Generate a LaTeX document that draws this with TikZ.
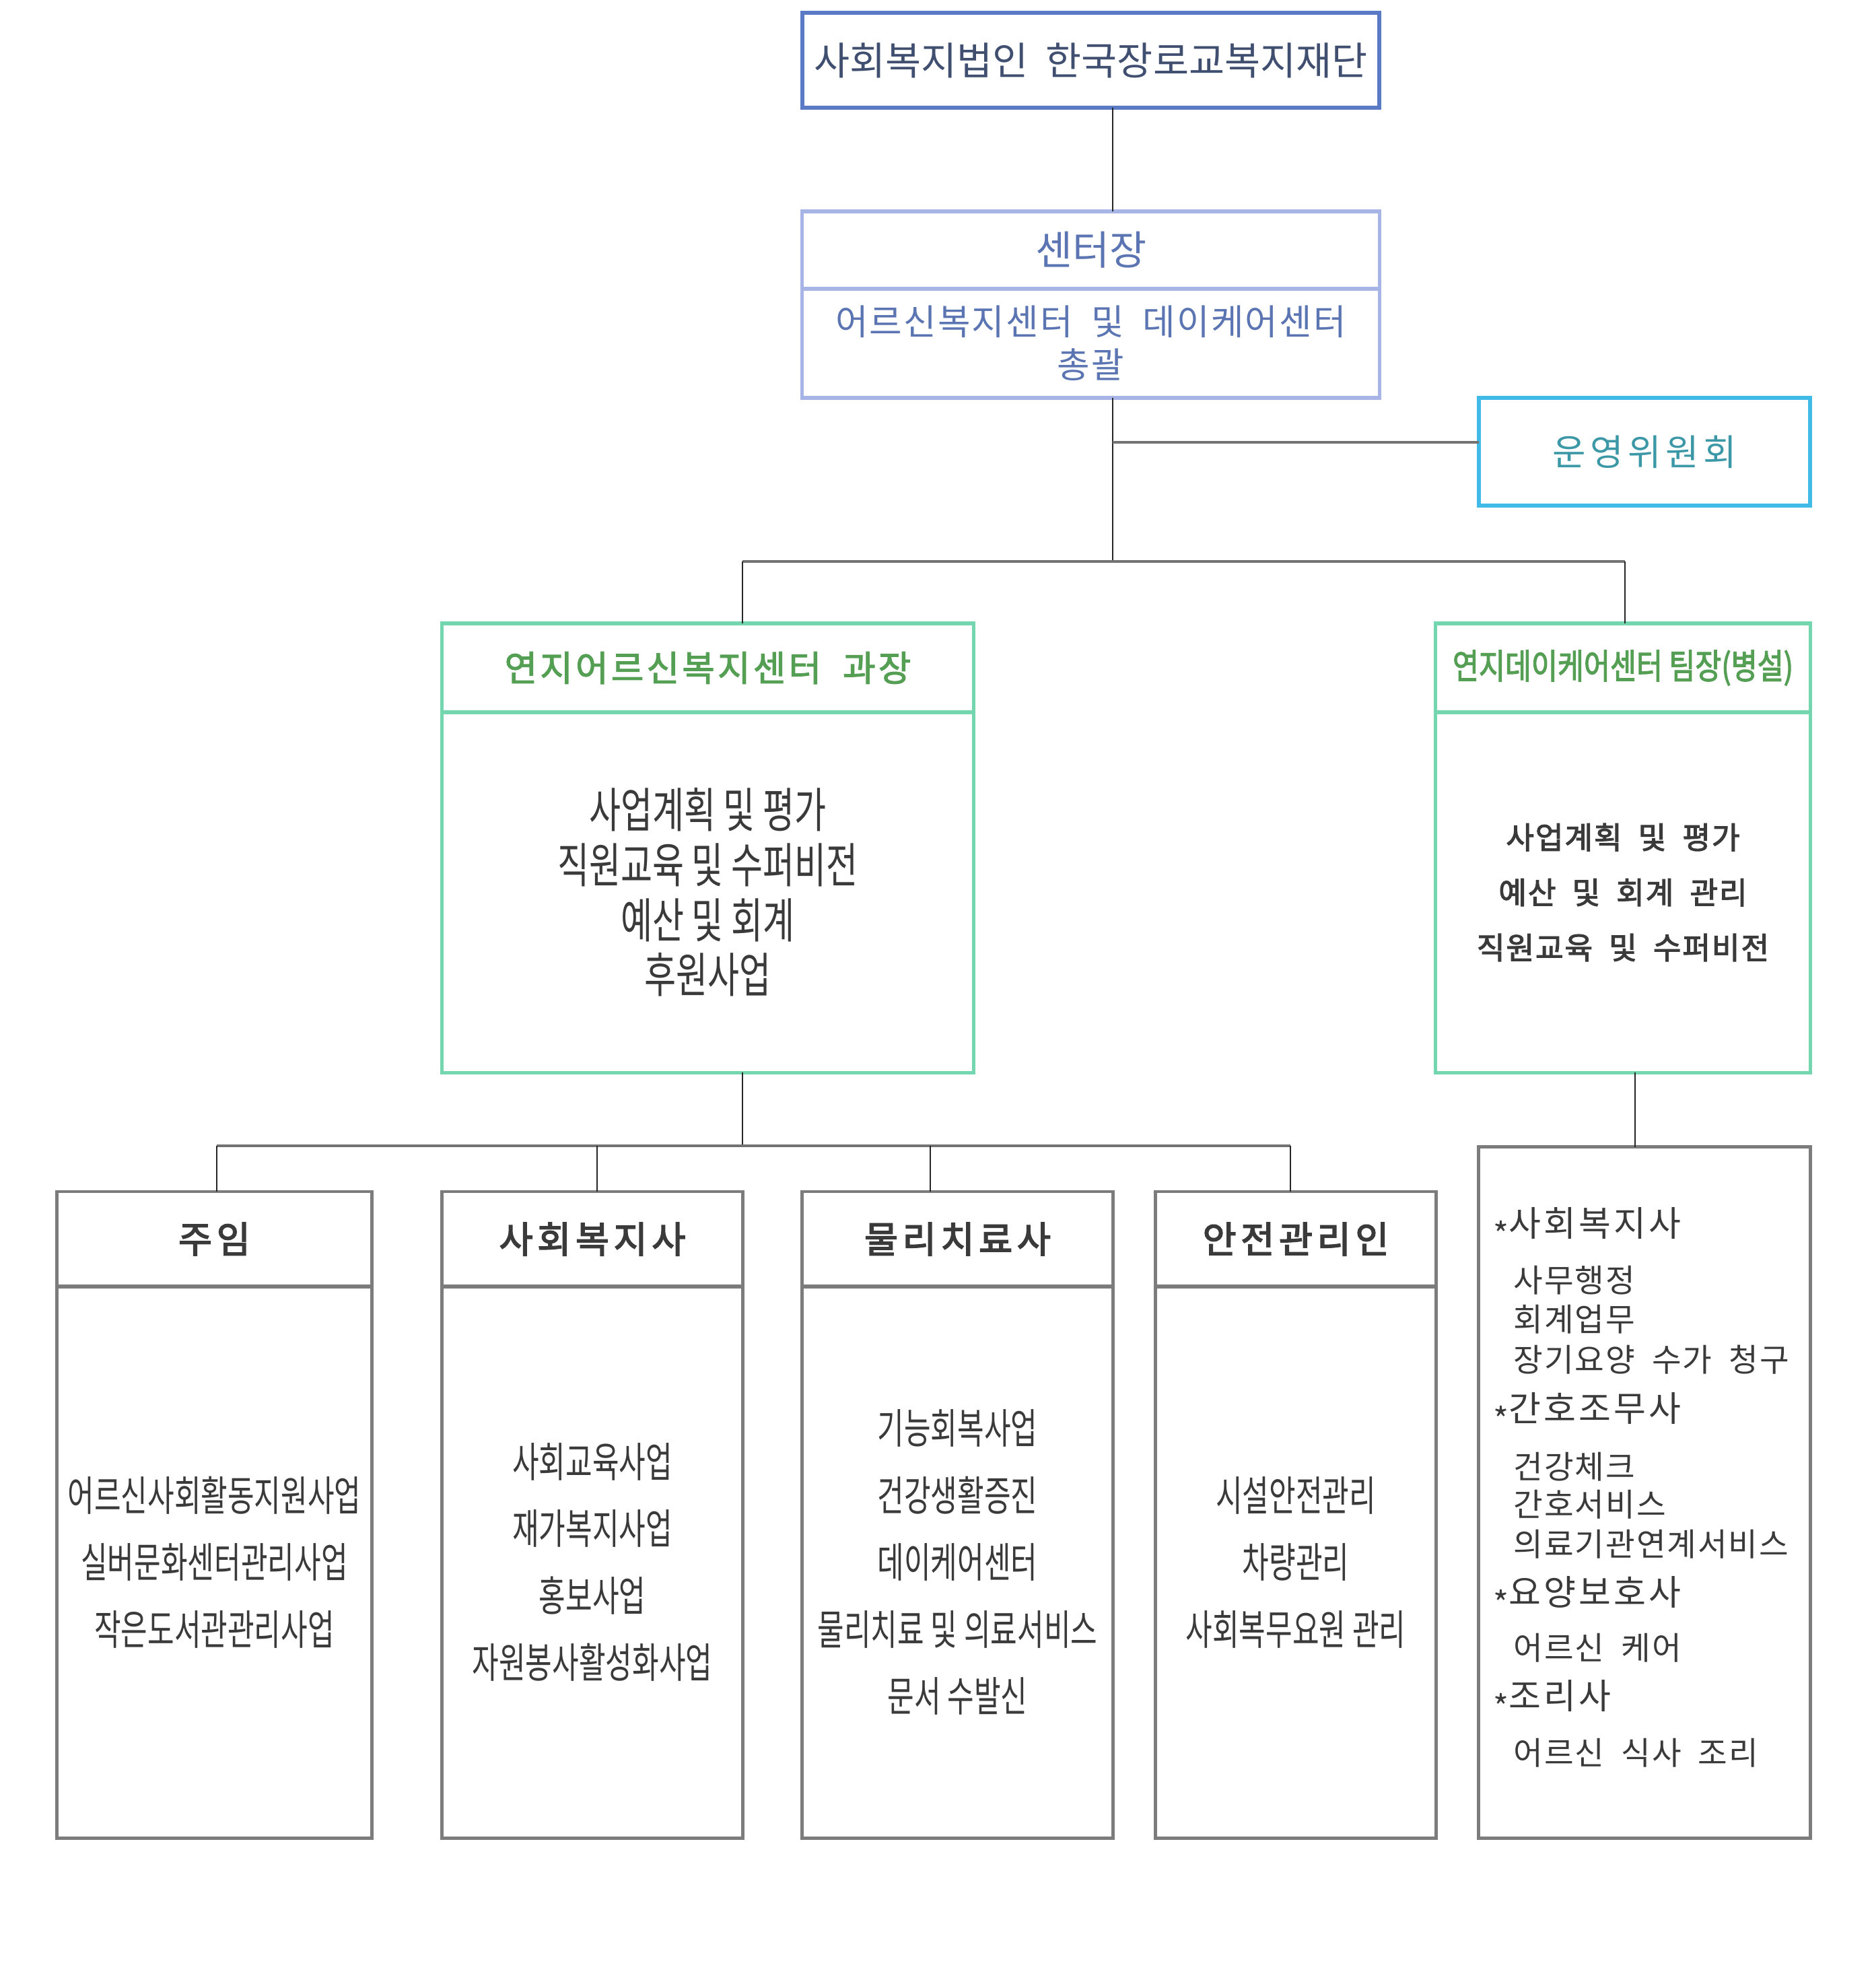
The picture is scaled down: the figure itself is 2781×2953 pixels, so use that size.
\documentclass[tikz,border=0pt]{standalone}
\usepackage{fontspec}
\setmainfont{Noto Sans CJK KR}
\newfontfamily\kr{Noto Sans CJK KR}
\newfontfamily\krA[LetterSpace=4]{Noto Sans CJK KR}
\newfontfamily\krB[LetterSpace=8]{Noto Sans CJK KR}
\newfontfamily\krC[LetterSpace=12]{Noto Sans CJK KR}
\newfontfamily\krAb[LetterSpace=4,FakeBold=2.5]{Noto Sans CJK KR}
\newfontfamily\krBb[LetterSpace=8,FakeBold=2.2]{Noto Sans CJK KR}
\newfontfamily\krCb[LetterSpace=12,FakeBold=3]{Noto Sans CJK KR}
\newfontfamily\krn[FakeStretch=0.70]{Noto Sans CJK KR}
\newfontfamily\krw[FakeStretch=0.72]{Noto Sans CJK KR}
\newfontfamily\krm[FakeStretch=0.82,FakeBold=2.2]{Noto Sans CJK KR}
\definecolor{cTop}{HTML}{5A7AC6}
\definecolor{cTopT}{HTML}{404E70}
\definecolor{cChief}{HTML}{A6B5E5}
\definecolor{cChiefT}{HTML}{5B74B2}
\definecolor{cCom}{HTML}{40BAE6}
\definecolor{cComT}{HTML}{3C98A6}
\definecolor{cGrn}{HTML}{73D6AF}
\definecolor{cGrnT}{HTML}{559F55}
\definecolor{cGry}{HTML}{7C7C7C}
\definecolor{cTxt}{HTML}{3A3A3A}
\newcommand{\mystar}{\raisebox{-0.3em}{\fontsize{14pt}{14pt}\selectfont *}}
\begin{document}
\begin{tikzpicture}[x=0.01cm,y=-0.01cm,
  box/.style={draw, inner sep=0pt, outer sep=0pt, anchor=center, align=center},
  topbox/.style={box, draw=cTop, line width=1.7pt, text=cTopT, font={\kr\fontsize{16.4pt}{18pt}\selectfont}},
  chiefbox/.style={box, draw=cChief, line width=1.5pt, text=cChiefT},
  combox/.style={box, draw=cCom, line width=1.7pt, text=cComT, font={\krC\fontsize{15.3pt}{17pt}\selectfont}},
  grnbox/.style={box, draw=cGrn, line width=1.5pt},
  grnhead/.style={grnbox, text=cGrnT},
  grybox/.style={box, draw=cGry, line width=1.4pt, text=cTxt},
  gryhead/.style={grybox, font={\krCb\fontsize{15.5pt}{17pt}\selectfont}, minimum height=1.41cm},
  grybody/.style={grybox, font={\krn\fontsize{17.5pt}{28.3pt}\selectfont}, minimum height=8.19cm},
  lhead/.style={anchor=west, inner sep=0pt, text=cTxt, font={\krB\fontsize{14.8pt}{16pt}\selectfont}},
  litem/.style={anchor=west, inner sep=0pt, text=cTxt, font={\krA\fontsize{13.5pt}{15pt}\selectfont}},
  vline/.style={draw=black!85, line width=0.6pt},
  hline/.style={draw=black!55, line width=1.4pt}]
\useasboundingbox (0,0) rectangle (2781,2953);
\fill[white] (0,0) rectangle (2781,2953);

% top level
\node[topbox, minimum width=8.57cm, minimum height=1.41cm] (top) at (1620.5,89.5) {사회복지법인~~한국장로교복지재단};
\node[chiefbox, minimum width=8.57cm, minimum height=1.15cm, font={\kr\fontsize{17pt}{18pt}\selectfont}] (chiefH) at (1620.5,371.5) {센터장};
\node[chiefbox, minimum width=8.57cm, minimum height=1.62cm, font={\krA\fontsize{15pt}{18.2pt}\selectfont}] (chiefB) at (1620.5,510) {어르신복지센터~~및~~데이케어센터\\총괄};
\node[combox, minimum width=4.92cm, minimum height=1.60cm] (com) at (2443,671) {운영위원회};

% green boxes
\node[grnhead, minimum width=7.89cm, minimum height=1.32cm, font={\krBb\fontsize{15pt}{17pt}\selectfont}] (lgH) at (1051.5,992) {연지어르신복지센터~~과장};
\node[grnbox, minimum width=7.89cm, minimum height=5.35cm, text=cTxt, font={\krw\fontsize{20.2pt}{23.2pt}\selectfont}] (lgB) at (1051.5,1325.5) {사업계획 및 평가\\직원교육 및 수퍼비전\\예산 및 회계\\후원사업};
\node[grnhead, minimum width=5.56cm, minimum height=1.32cm, font={\krm\fontsize{14.7pt}{16pt}\selectfont}] (rgH) at (2411,992) {연지데이케어센터 팀장(병설)};
\node[grnbox, minimum width=5.56cm, minimum height=5.35cm, text=cTxt, font={\krAb\fontsize{12.9pt}{23.3pt}\selectfont}] (rgB) at (2411,1325.5) {사업계획~~및~~평가\\예산~~및~~회계~~관리\\직원교육~~및~~수퍼비전};

% bottom boxes
\node[gryhead, minimum width=4.67cm] (b1H) at (318.5,1840.5) {주임};
\node[grybody, minimum width=4.67cm] (b1B) at (318.5,2320.5) {어르신사회활동지원사업\\실버문화센터관리사업\\작은도서관관리사업};
\node[gryhead, minimum width=4.46cm] (b2H) at (880,1840.5) {사회복지사};
\node[grybody, minimum width=4.46cm] (b2B) at (880,2320.5) {사회교육사업\\재가복지사업\\홍보사업\\자원봉사활성화사업};
\node[gryhead, minimum width=4.61cm] (b3H) at (1422.5,1840.5) {물리치료사};
\node[grybody, minimum width=4.61cm] (b3B) at (1422.5,2320.5) {기능회복사업\\건강생활증진\\데이케어센터\\물리치료 및 의료서비스\\문서 수발신};
\node[gryhead, minimum width=4.16cm] (b4H) at (1925,1840.5) {안전관리인};
\node[grybody, minimum width=4.16cm] (b4B) at (1925,2320.5) {시설안전관리\\차량관리\\사회복무요원 관리};
\node[grybox, minimum width=4.92cm, minimum height=10.26cm] (list) at (2443,2217) {};

% list text
\node[lhead] (l1) at (2218,1823) {\mystar{}사회복지사};
\node[litem] (l2) at (2248,1902) {사무행정};
\node[litem] (l3) at (2248,1960) {회계업무};
\node[litem] (l4) at (2248,2020) {장기요양~~수가~~청구};
\node[lhead] (l5) at (2218,2098) {\mystar{}간호조무사};
\node[litem] (l6) at (2248,2179) {건강체크};
\node[litem] (l7) at (2248,2235) {간호서비스};
\node[litem] (l8) at (2248,2294) {의료기관연계서비스};
\node[lhead] (l9) at (2218,2371) {\mystar{}요양보호사};
\node[litem] (l10) at (2248,2448) {어르신~~케어};
\node[lhead] (l11) at (2218,2525) {\mystar{}조리사};
\node[litem] (l12) at (2248,2604) {어르신~~식사~~조리};

% junction coordinates
\coordinate (j1) at (1653,657);
\coordinate (j2) at (1653,834);
\coordinate (bL) at (1103,834);
\coordinate (bR) at (2414,834);
\coordinate (cL) at (322,1702);
\coordinate (cM) at (1103,1702);
\coordinate (cR) at (1917,1702);
\coordinate (d2) at (887,1702);
\coordinate (d3) at (1382,1702);
\coordinate (rx) at (2429,1650);

% connectors
\draw[vline] (top.south -| j1) -- (chiefH.north -| j1);
\draw[vline] (chiefB.south -| j1) -- (j2);
\draw[hline] (j1) -- (com.west |- j1);
\draw[hline] (bL) -- (bR);
\draw[vline] (bL) -- (lgH.north -| bL);
\draw[vline] (bR) -- (rgH.north -| bR);
\draw[vline] (lgB.south -| cM) -- (cM);
\draw[hline] (cL) -- (cR);
\draw[vline] (cL) -- (b1H.north -| cL);
\draw[vline] (d2) -- (b2H.north -| d2);
\draw[vline] (d3) -- (b3H.north -| d3);
\draw[vline] (cR) -- (b4H.north -| cR);
\draw[vline] (rgB.south -| rx) -- (list.north -| rx);
\end{tikzpicture}
\end{document}
